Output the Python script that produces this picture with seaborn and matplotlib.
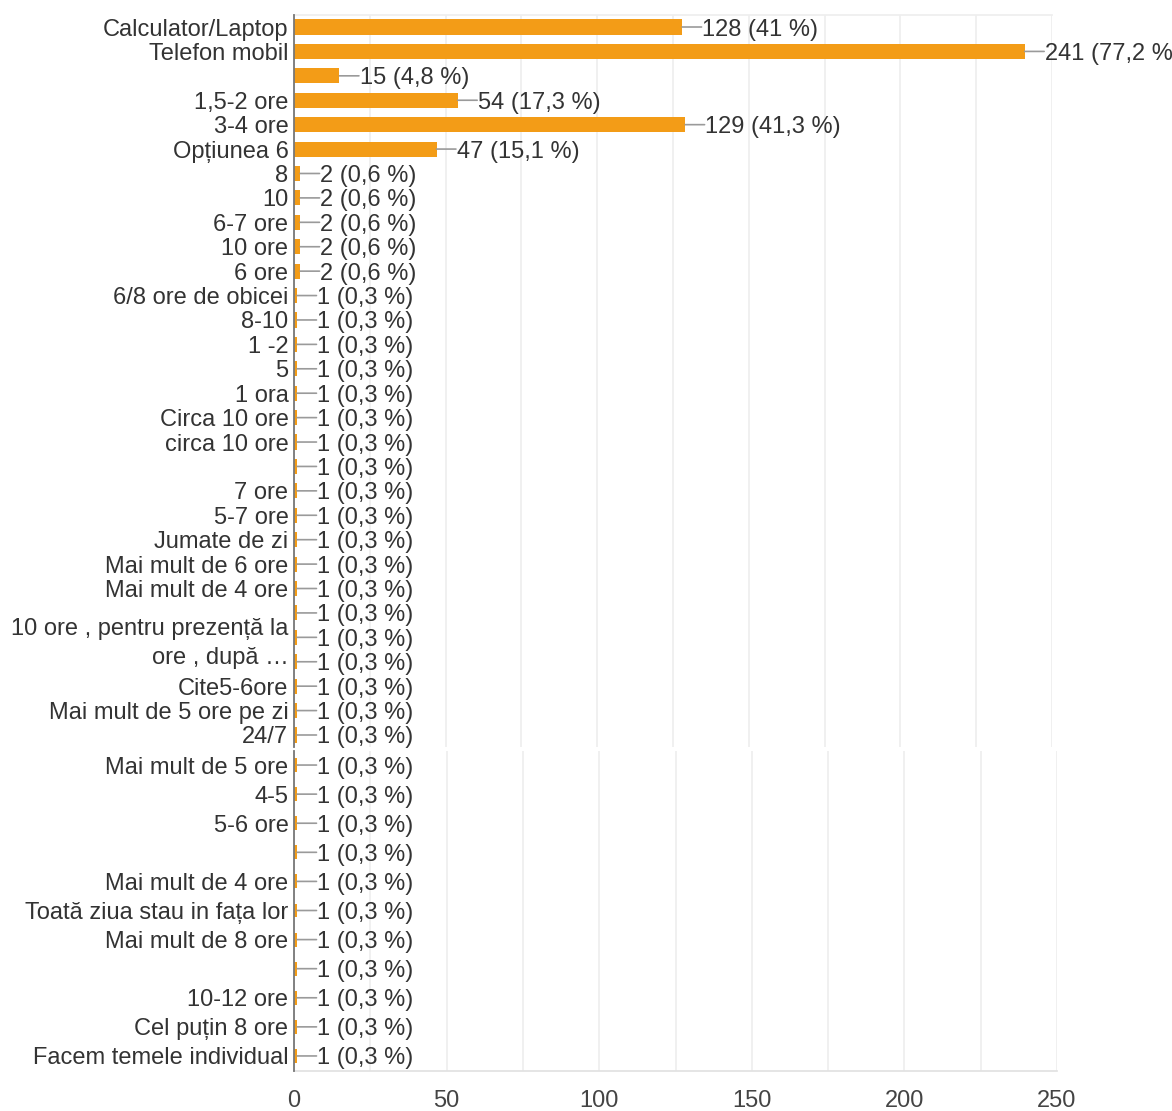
import matplotlib
matplotlib.use("Agg")
import matplotlib.pyplot as plt
import seaborn as sns
import pandas as pd

# ---- data ----
top_labels = [
    "Calculator/Laptop", "Telefon mobil", "", "1,5-2 ore", "3-4 ore", "Opțiunea 6",
    "8", "10", "6-7 ore", "10 ore", "6 ore", "6/8 ore de obicei", "8-10", "1 -2", "5",
    "1 ora", "Circa 10 ore", "circa 10 ore", "", "7 ore", "5-7 ore", "Jumate de zi",
    "Mai mult de 6 ore", "Mai mult de 4 ore", "", "10 ore , pentru prezență la\nore , după …",
    "", "Cite5-6ore", "Mai mult de 5 ore pe zi", "24/7",
]
top_counts = [128, 241, 15, 54, 129, 47, 2, 2, 2, 2, 2, 1, 1, 1, 1,
              1, 1, 1, 1, 1, 1, 1, 1, 1, 1, 1, 1, 1, 1, 1]
top_pcts = [41, 77.2, 4.8, 17.3, 41.3, 15.1, 0.6, 0.6, 0.6, 0.6, 0.6, 0.3, 0.3, 0.3, 0.3,
            0.3, 0.3, 0.3, 0.3, 0.3, 0.3, 0.3, 0.3, 0.3, 0.3, 0.3, 0.3, 0.3, 0.3, 0.3]

bottom_labels = [
    "Mai mult de 5 ore", "4-5", "5-6 ore", "", "Mai mult de 4 ore",
    "Toată ziua stau in fața lor", "Mai mult de 8 ore", "", "10-12 ore",
    "Cel puțin 8 ore", "Facem temele individual",
]
bottom_counts = [1, 1, 1, 1, 1, 1, 1, 1, 1, 1, 1]
bottom_pcts = [0.3, 0.3, 0.3, 0.3, 0.3, 0.3, 0.3, 0.3, 0.3, 0.3, 0.3]

x_ticks = [0, 50, 100, 150, 200, 250]

# ---- style ----
sns.set_theme(style="white")
plt.rcParams["font.family"] = ["Liberation Sans", "DejaVu Sans"]

BAR = "#f39c17"
TXT = "#333333"
FS = 17

fig = plt.figure(figsize=(11.72, 11.11), dpi=100)
W = 1172.0
H = 1111.0
ax_top = fig.add_axes([294 / W, 1 - 747.2 / H, (1052 - 294) / W, (747.2 - 14.8) / H])
ax_bot = fig.add_axes([294 / W, 1 - 1070.5 / H, (1057 - 294) / W, (1070.5 - 750.5) / H])


def draw(ax, labels, counts, pcts, bar_h, show_x):
    df = pd.DataFrame({"key": [str(i) for i in range(len(labels))], "count": counts})
    sns.barplot(data=df, x="count", y="key", orient="h", color=BAR, width=bar_h,
                saturation=1, ax=ax, zorder=3)
    for p in ax.patches:
        p.set_edgecolor("none")
    ax.set_xlim(0, 250)
    ax.set_ylim(len(labels) - 0.5, -0.5)
    ax.set_yticks(range(len(labels)))
    ax.set_yticklabels(labels, fontsize=FS, color=TXT)
    for t in ax.get_yticklabels():
        if "\n" in t.get_text():
            t.set_linespacing(1.45)
    ax.set_ylabel("")
    ax.set_xlabel("")
    ax.tick_params(axis="y", length=0, pad=4)
    ax.set_xticks(range(0, 251, 25))
    if show_x:
        ax.set_xticklabels([str(t) if t in x_ticks else "" for t in range(0, 251, 25)],
                           fontsize=FS, color="#444444")
        ax.tick_params(axis="x", length=0, pad=14)
    else:
        ax.set_xticklabels([])
        ax.tick_params(axis="x", length=0)
    ax.grid(axis="x", color="#eeeeee", lw=1.2, zorder=0)
    ax.grid(axis="y", visible=False)
    for s in ax.spines.values():
        s.set_visible(False)
    ax.spines["left"].set_visible(True)
    ax.spines["left"].set_color("#777777")
    ax.spines["left"].set_linewidth(1.3)
    ax.spines["left"].set_zorder(4)
    for i, (v, pc) in enumerate(zip(counts, pcts)):
        txt = f"{v} ({pc:g} %)".replace(".", ",")
        # leader line
        ax.annotate("", xy=(v, i), xytext=(14, 0), textcoords="offset points",
                    annotation_clip=False, zorder=4,
                    arrowprops=dict(arrowstyle="-", color="#9a9a9a", lw=1.2,
                                    shrinkA=0, shrinkB=0))
        ax.annotate(txt, xy=(v, i), xytext=(14.5, 0), textcoords="offset points",
                    ha="left", va="center_baseline", fontsize=FS, color=TXT, zorder=5,
                    annotation_clip=False)


draw(ax_top, top_labels, top_counts, top_pcts, 0.62, False)
ax_top.spines["top"].set_visible(True)
ax_top.spines["top"].set_color("#eeeeee")

draw(ax_bot, bottom_labels, bottom_counts, bottom_pcts, 0.48, True)
ax_bot.spines["bottom"].set_visible(True)
ax_bot.spines["bottom"].set_color("#e2e2e2")

fig.savefig("out.png", dpi=100)
